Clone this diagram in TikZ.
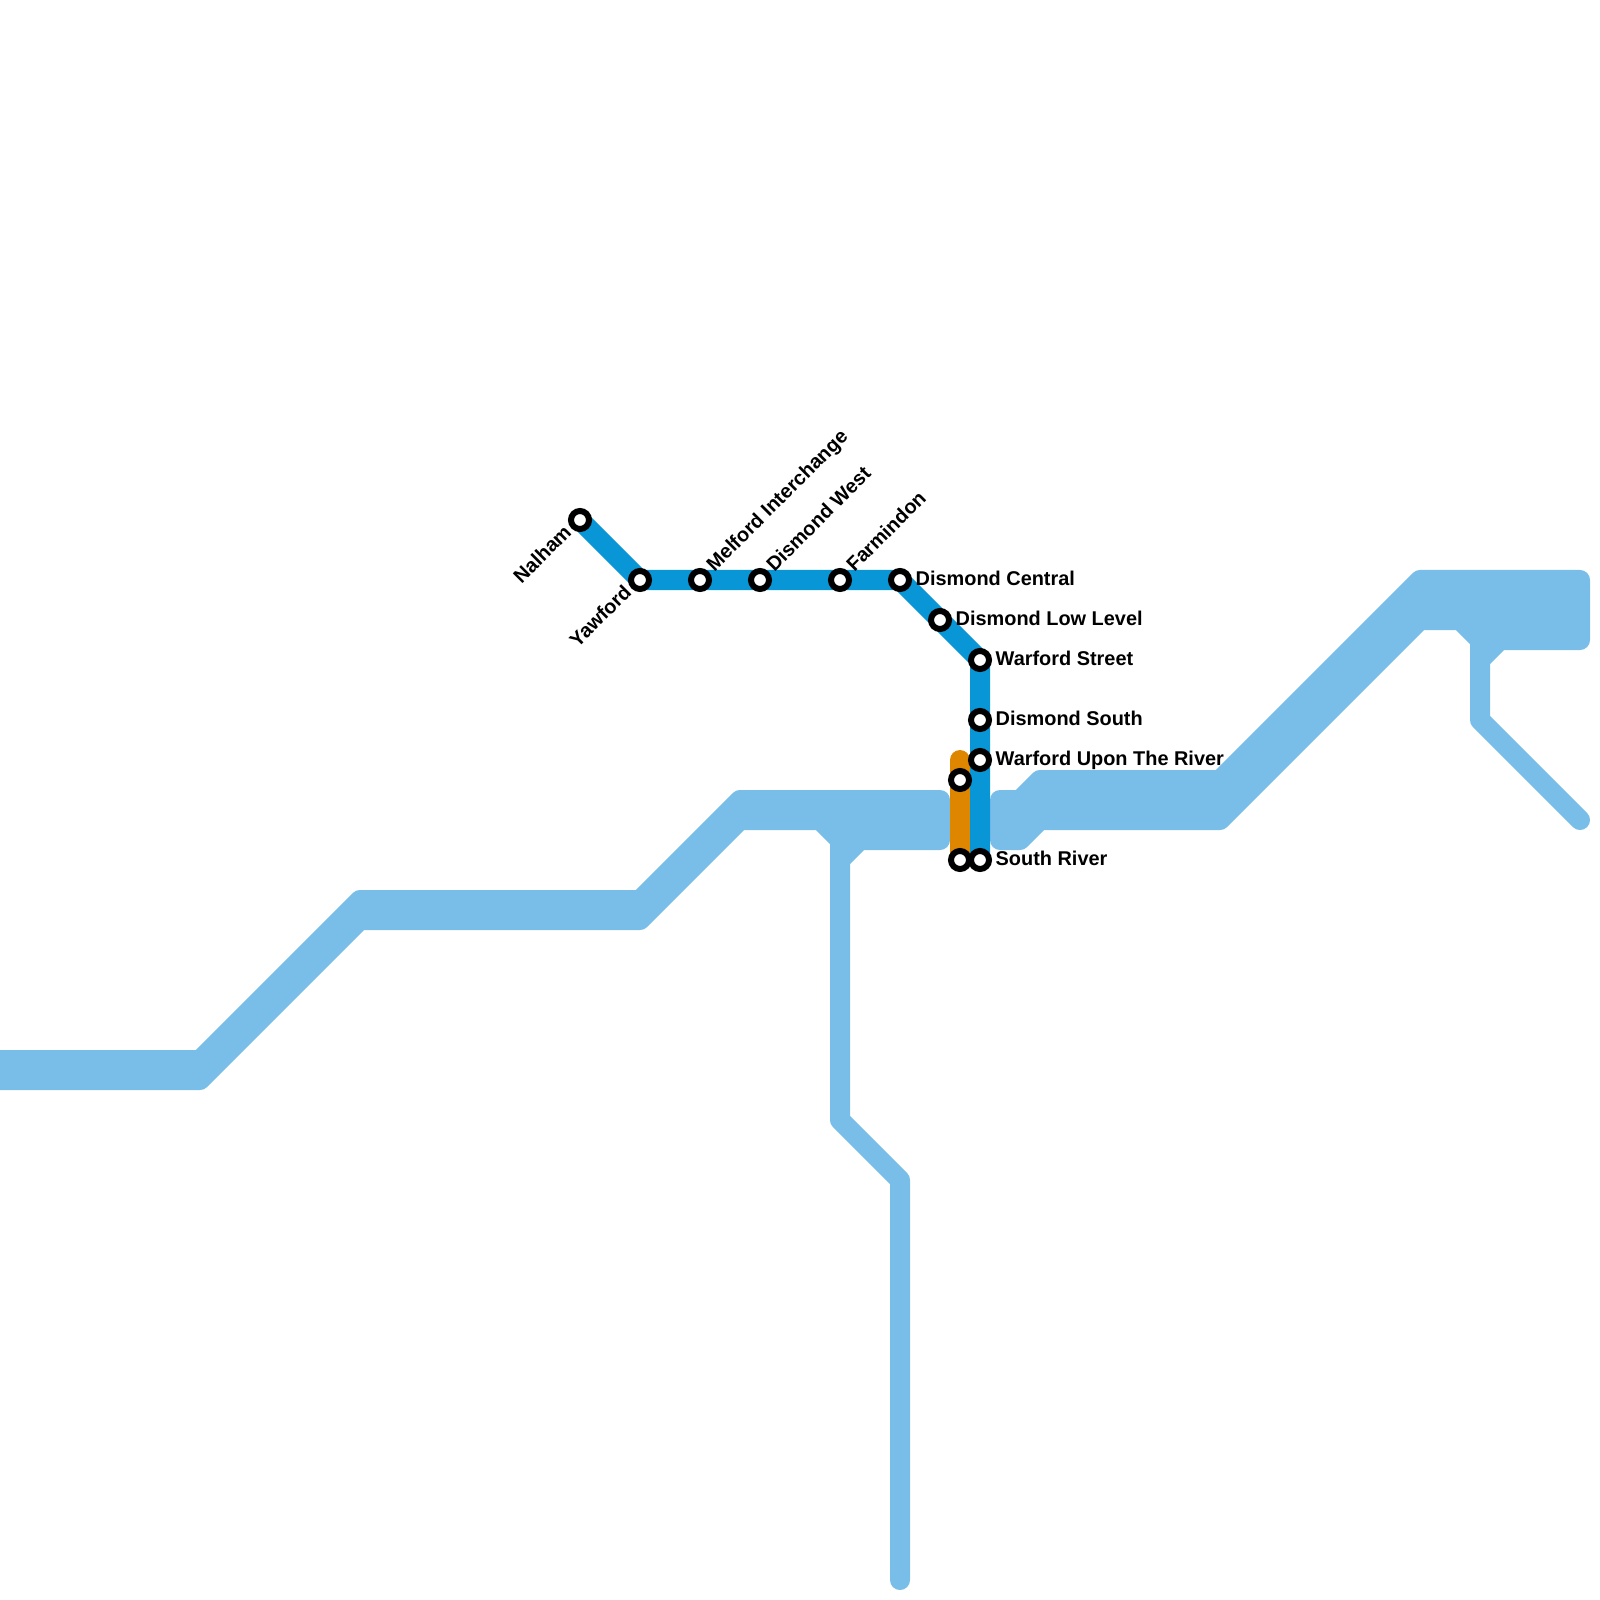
\documentclass[tikz,border=0pt]{standalone}
\usepackage{fontspec}
\setmainfont{Liberation Sans}
\usetikzlibrary{backgrounds}
\definecolor{waterc}{HTML}{79BDE9}
\definecolor{bluec}{HTML}{0896D7}
\definecolor{orangec}{HTML}{DF8600}
\tikzset{
  water/.style={draw=waterc,fill=waterc,line width=0.2cm,line join=round},
  waterarm/.style={draw=waterc,line width=0.2cm,line join=round,line cap=round},
  route/.style={line width=0.2cm,line join=round,line cap=round},
  halt/.style={circle,draw=black,fill=white,line width=0.06cm,minimum size=0.18cm,inner sep=0pt},
  rlabel/.style={anchor=base west,inner sep=0pt,font=\bfseries\fontsize{5.66}{6.8}\selectfont},
  uplabel/.style={rlabel,rotate=45},
  downlabel/.style={anchor=base east,inner sep=0pt,rotate=45,font=\bfseries\fontsize{5.66}{6.8}\selectfont}
}
\begin{document}
\begin{tikzpicture}[x=0.01cm,y=-0.01cm]
\useasboundingbox (0,0) rectangle (1600,1600);
% stations
\coordinate (orangetop) at (960,760);
\node[halt] (nalham) at (580,520) {};
\node[halt] (yawford) at (640,580) {};
\node[halt] (melford) at (700,580) {};
\node[halt] (dwest) at (760,580) {};
\node[halt] (farmindon) at (840,580) {};
\node[halt] (dcentral) at (900,580) {};
\node[halt] (dlow) at (940,620) {};
\node[halt] (wstreet) at (980,660) {};
\node[halt] (dsouth) at (980,720) {};
\node[halt] (wupon) at (980,760) {};
\node[halt] (sriver) at (980,860) {};
\node[halt] (oa) at (960,780) {};
\node[halt] (ob) at (960,860) {};
\begin{pgfonlayer}{background}
% water
\path[water] (-30,1060) -- (200,1060) -- (360,900) -- (640,900) -- (740,800) -- (940,800) -- (940,840) -- (860,840) -- (840,860) -- (840,840) -- (820,820) -- (740,820) -- (640,920) -- (360,920) -- (200,1080) -- (-30,1080) -- cycle;
\path[waterarm] (840,840) -- (840,1120) -- (900,1180) -- (900,1580);
\path[water] (1000,800) -- (1020,800) -- (1040,780) -- (1220,780) -- (1420,580) -- (1580,580) -- (1580,640) -- (1500,640) -- (1480,660) -- (1480,640) -- (1460,620) -- (1420,620) -- (1220,820) -- (1040,820) -- (1020,840) -- (1000,840) -- cycle;
\path[waterarm] (1480,640) -- (1480,720) -- (1580,820);
% routes
\draw[route,orangec] (orangetop) -- (oa.center) -- (ob.center);
\draw[route,bluec] (nalham.center) -- (yawford.center) -- (melford.center) -- (dwest.center) -- (farmindon.center) -- (dcentral.center) -- (dlow.center) -- (wstreet.center) -- (dsouth.center) -- (wupon.center) -- (sriver.center);
\end{pgfonlayer}
% labels
\node[downlabel] (t1) at (573,533) {Nalham};
\node[downlabel] (t2) at (633,593) {Yawford};
\node[uplabel] (t3) at (714,573) {Melford Interchange};
\node[uplabel] (t4) at (774,573) {Dismond West};
\node[uplabel] (t5) at (854,573) {Farmindon};
\node[rlabel] (t6) at (915,585) {Dismond Central};
\node[rlabel] (t7) at (955,625) {Dismond Low Level};
\node[rlabel] (t8) at (995,665) {Warford Street};
\node[rlabel] (t9) at (995,725) {Dismond South};
\node[rlabel] (t10) at (995,765) {Warford Upon The River};
\node[rlabel] (t11) at (995,865) {South River};
\end{tikzpicture}
\end{document}
